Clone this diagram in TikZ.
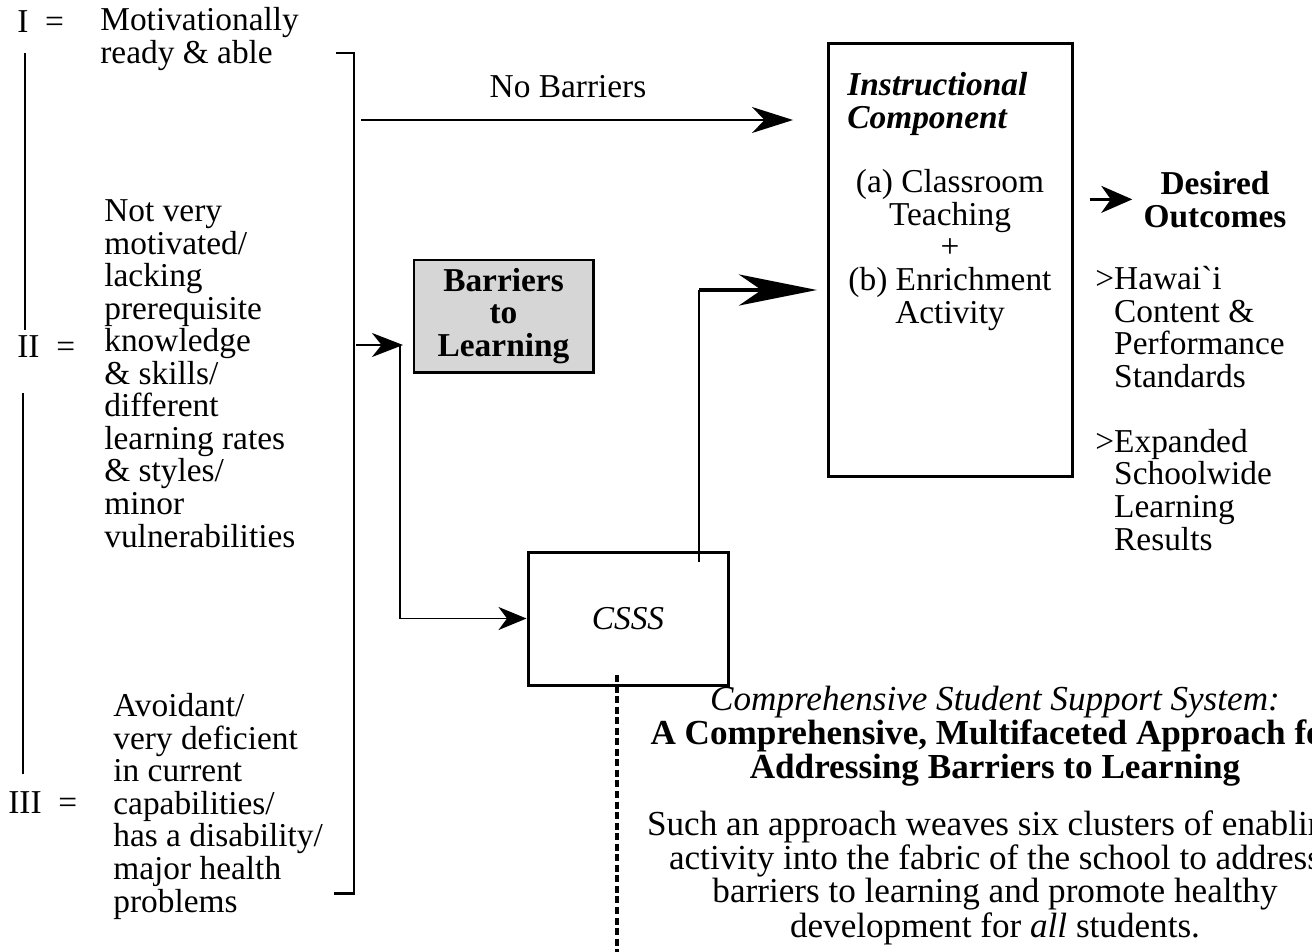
\documentclass[tikz,border=0pt]{standalone}
\usepackage{fontspec}
\setmainfont{Liberation Serif}
\usetikzlibrary{arrows.meta}
\newcommand{\fsz}{\fontsize{19pt}{18.5pt}\selectfont}
\newcommand{\fszb}{\fontsize{20pt}{17.3pt}\selectfont}
\tikzset{
  txt/.style={inner sep=0pt, font=\fsz},
  box/.style={draw, line width=1.7pt, inner sep=0pt},
  desc/.style={inner sep=0pt, font=\fszb, align=center, anchor=base},
}
\begin{document}
\begin{tikzpicture}
\useasboundingbox (0,0) rectangle (26.24,-19.02);
% boxes
\node[box, anchor=north west, minimum width=4.88cm, minimum height=8.66cm] (instr) at (16.54,-0.84) {};
\node[box, fill=gray!32, minimum width=3.58cm, minimum height=2.24cm, font=\fsz\bfseries, align=center] (barr) at (10.07,-6.32) {Barriers\\to\\Learning};
\node[box, minimum width=4cm, minimum height=2.66cm, font=\fsz\itshape] (csss) at (12.56,-12.37) {CSSS};
% levels I, II, III
\node[txt, anchor=base west] (lI) at (0.34,-0.64) {I\enspace=};
\node[txt, anchor=base west] (lII) at (0.34,-7.14) {II\enspace=};
\node[txt, anchor=base west] (lIII) at (0.16,-16.26) {III\enspace=};
\node[txt, align=left, anchor=base west] (tI) at (2.00,-1.26) {Motivationally\\ready \& able};
\node[txt, align=left, anchor=base west] (tII) at (2.08,-10.94) {Not very\\motivated/\\lacking\\prerequisite\\knowledge\\\& skills/\\different\\learning rates\\\& styles/\\minor\\vulnerabilities};
\node[txt, align=left, anchor=base west] (tIII) at (2.26,-18.24) {Avoidant/\\very deficient\\in current\\capabilities/\\has a disability/\\major health\\problems};
\draw[line width=1.4pt] (0.50,-1.06) -- (0.50,-6.60);
\draw[line width=1.2pt] (0.46,-7.86) -- (0.46,-15.48);
\draw[line width=1.7pt] (6.72,-1.06) -- (7.08,-1.06) -- (7.08,-17.86) -- (6.68,-17.86);
% no barriers
\coordinate (nb) at (7.22,-2.40);
\node[txt, anchor=base] (nblbl) at (11.36,-1.94) {No Barriers};
\draw[line width=1.1pt, -{Stealth[length=0.82cm,width=0.52cm,inset=0.25cm]}, shorten >=0.68cm] (nb) -- (nb -| instr.west);
% barriers, then CSSS
\coordinate (brk) at (7.12,-6.90);
\coordinate (split) at (8.06,-6.90);
\draw[line width=1.1pt, -{Stealth[length=0.62cm,width=0.48cm,inset=0.19cm]}] (brk) -- (split);
\draw[line width=1.1pt, -{Stealth[length=0.56cm,width=0.46cm,inset=0.17cm]}] ([xshift=-0.06cm]split) |- (csss.west);
% CSSS up to instruction
\coordinate (bend) at (13.98,-5.80);
\draw[line width=1.1pt] ([yshift=-0.22cm]csss.north -| bend) -- (bend);
\draw[line width=2.8pt, -{Stealth[length=1.56cm,width=0.62cm,inset=0.45cm]}, shorten >=0.2cm] (bend) -- (bend -| instr.west);
% CSSS down
\coordinate (dsh) at (12.34,-13.50);
\draw[line width=1.9pt, dash pattern=on 4pt off 2pt] (dsh) -- ++(0,-5.6);
% instructional component
\node[txt, font=\fsz\bfseries\itshape, align=left, anchor=base west] (ititle) at (16.94,-2.56) {Instructional\\Component};
\node[txt, align=center, anchor=base] (iacts) at (19.00,-6.46) {(a) Classroom\\Teaching\\+\\(b) Enrichment\\Activity};
% outcomes
\node[txt, font=\fsz\bfseries, align=center, anchor=base] (outc) at (24.30,-4.54) {Desired\\Outcomes};
\draw[line width=1.3pt, -{Stealth[length=0.62cm,width=0.54cm,inset=0.19cm]}] ([xshift=0.32cm]instr.east |- outc.west) -- ([xshift=-0.22cm]outc.west);
\node[txt, align=left, anchor=base west] (stds) at (21.90,-11.00) {>Hawai\textasciigrave i\\\phantom{>}Content \&\\\phantom{>}Performance\\\phantom{>}Standards\\[18.5pt]>Expanded\\\phantom{>}Schoolwide\\\phantom{>}Learning\\\phantom{>}Results};
% CSSS description
\node[desc] (dtitle) at (19.90,-15.56) {\textit{Comprehensive Student Support System:}\\\textbf{A Comprehensive, Multifaceted Approach for}\\\textbf{Addressing Barriers to Learning}};
\node[desc] (dbody) at (19.90,-18.74) {Such an approach weaves six clusters of enabling\\activity into the fabric of the school to address\\barriers to learning and promote healthy\\development for \textit{all} students.};
\end{tikzpicture}
\end{document}
